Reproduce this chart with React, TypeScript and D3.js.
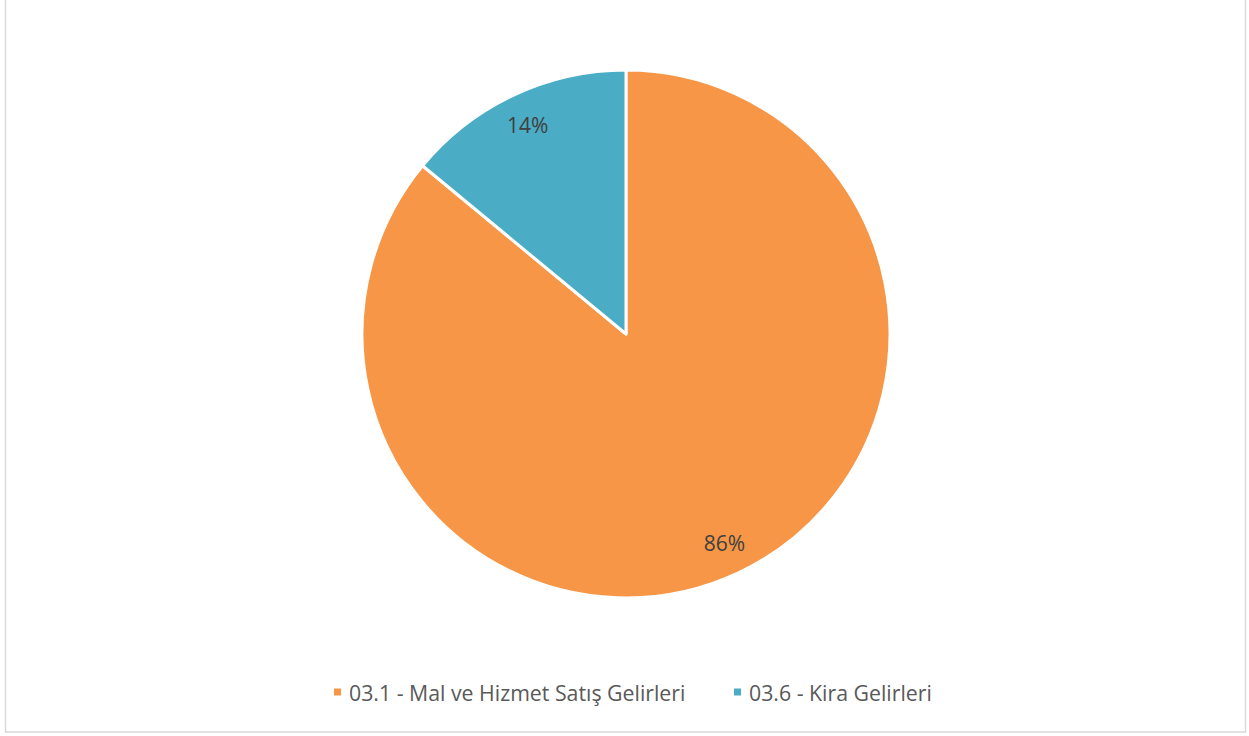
import React from "react";
import * as d3 from "d3";

const categories = ["03.1 - Mal ve Hizmet Satış Gelirleri", "03.6 - Kira Gelirleri"];
const values = [86, 14];
const colors = ["#F79646", "#4BACC6"];

const W = 1249;
const H = 736;

export default function App() {
  const cx = 626;
  const cy = 334;
  const r = 264;
  const pie = d3.pie<number>().sort(null).value((d) => d);
  const arcs = pie(values);
  const arc = d3.arc<d3.PieArcDatum<number>>().innerRadius(0).outerRadius(r);
  const labelArc = d3.arc<d3.PieArcDatum<number>>().innerRadius(r * 0.875).outerRadius(r * 0.875);
  const total = d3.sum(values);

  const font = "'Open Sans', sans-serif";
  const legendX = [334, 734];

  return (
    <svg
      width={W}
      height={H}
      style={{ position: "absolute", left: 0, top: 0, background: "#fff" }}
    >
      <rect x={5.5} y={-1} width={1240} height={733} fill="#fff" stroke="#d9d9d9" strokeWidth={1.5} />
      <g transform={`translate(${cx},${cy})`}>
        {arcs.map((a, i) => (
          <path key={i} d={arc(a) || ""} fill={colors[i]} stroke="#fff" strokeWidth={3} strokeLinejoin="round" />
        ))}
        {arcs.map((a, i) => {
          const [lx, ly] = labelArc.centroid(a);
          return (
            <text
              key={"l" + i}
              x={lx}
              y={ly}
              textAnchor="middle"
              dominantBaseline="central"
              fontFamily={font}
              fontSize={21}
              fill="#404040"
            >
              {Math.round((values[i] / total) * 100)}%
            </text>
          );
        })}
      </g>
      {categories.map((c, i) => (
        <g key={"lg" + i} transform={`translate(${legendX[i]},692)`}>
          <rect x={0} y={-3.5} width={7} height={7} fill={colors[i]} />
          <text x={15} y={0} dominantBaseline="central" fontFamily={font} fontSize={21.3} fill="#595959">
            {c}
          </text>
        </g>
      ))}
    </svg>
  );
}
